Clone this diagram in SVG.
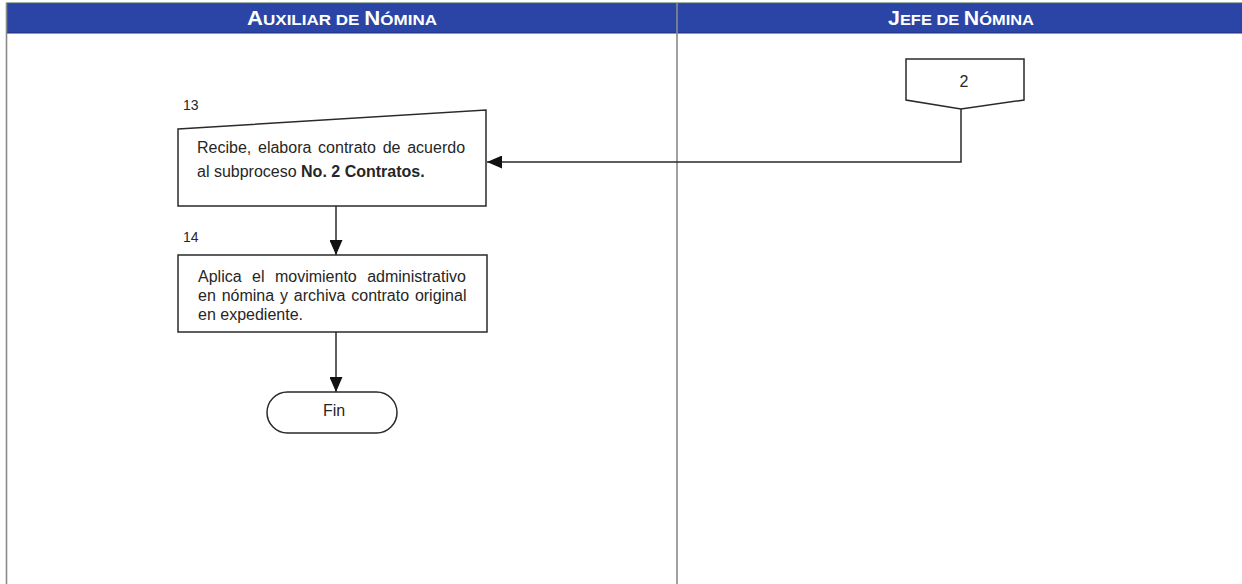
<svg xmlns="http://www.w3.org/2000/svg" width="1242" height="584" viewBox="0 0 1242 584">
  <style>
    .lane { fill: none; stroke: #8a8a8a; stroke-width: 1.6; }
    .hdr { fill: #2b45a6; }
    .hdr-txt { font-family: "Liberation Sans", Arial, sans-serif; font-weight: bold; fill: #ffffff; font-size: 19.5px; }
    .hdr-txt .sc { font-size: 15px; }
    .shape { fill: #ffffff; stroke: #2a2a2a; stroke-width: 1.5; }
    .txt { font-family: "Liberation Sans", Arial, sans-serif; font-size: 16px; fill: #262626; }
    .num { font-family: "Liberation Sans", Arial, sans-serif; font-size: 14px; fill: #262626; }
    .b { font-weight: bold; }
    .edge { fill: none; stroke: #2a2a2a; stroke-width: 1.5; }
  </style>
  <defs>
    <marker id="arrow" viewBox="0 0 15 13" refX="15" refY="6.5" markerWidth="15" markerHeight="13" markerUnits="userSpaceOnUse" orient="auto">
      <path d="M0,0 L15,6.5 L0,13 z" fill="#111111"/>
    </marker>
  </defs>

  <rect width="1242" height="584" fill="#ffffff"/>

  <!-- swimlane headers and lane borders -->
  <g id="lanes">
    <rect class="hdr" x="6" y="3" width="1236" height="30"/>
    <line x1="6" y1="3" x2="1242" y2="3" stroke="#3d6b4a" stroke-width="1"/>
    <line x1="6" y1="33" x2="1242" y2="33" stroke="#1c2f7a" stroke-width="1"/>
    <line class="lane" x1="6.5" y1="3" x2="6.5" y2="584"/>
    <line class="lane" x1="677" y1="3" x2="677" y2="584"/>
    <text class="hdr-txt" x="247" y="25" textLength="190" lengthAdjust="spacingAndGlyphs">A<tspan class="sc">UXILIAR DE </tspan>N<tspan class="sc">ÓMINA</tspan></text>
    <text class="hdr-txt" x="888" y="25" textLength="146" lengthAdjust="spacingAndGlyphs">J<tspan class="sc">EFE DE </tspan>N<tspan class="sc">ÓMINA</tspan></text>
  </g>

  <!-- connectors -->
  <g id="connectors">
    <polyline class="edge" points="961,109 961,162 487,162" marker-end="url(#arrow)"/>
    <line class="edge" x1="336" y1="206" x2="336" y2="255" marker-end="url(#arrow)"/>
    <line class="edge" x1="336" y1="332" x2="336" y2="392" marker-end="url(#arrow)"/>
  </g>

  <!-- off-page connector 2 -->
  <g id="node-2">
    <polygon class="shape" points="906,59 1024,59 1024,100 961,109 906,100"/>
    <text class="txt" x="964" y="87" text-anchor="middle">2</text>
  </g>

  <!-- step 13: manual input -->
  <g id="node-13">
    <text class="num" x="183" y="110">13</text>
    <polygon class="shape" points="178,129 486,110 486,206 178,206"/>
    <text class="txt" x="197" y="153" word-spacing="2.3">Recibe, elabora contrato de acuerdo</text>
    <text class="txt" x="197" y="177">al subproceso <tspan class="b">No. 2 Contratos.</tspan></text>
  </g>

  <!-- step 14: process -->
  <g id="node-14">
    <text class="num" x="183" y="242">14</text>
    <rect class="shape" x="178" y="255" width="309" height="77"/>
    <text class="txt" x="198" y="282" word-spacing="6">Aplica el movimiento administrativo</text>
    <text class="txt" x="198" y="301" word-spacing="1.4">en nómina y archiva contrato original</text>
    <text class="txt" x="198" y="320">en expediente.</text>
  </g>

  <!-- end terminator -->
  <g id="node-fin">
    <rect class="shape" x="267" y="392" width="130" height="41" rx="20.5" ry="20.5"/>
    <text class="txt" x="334" y="416" text-anchor="middle">Fin</text>
  </g>
</svg>
